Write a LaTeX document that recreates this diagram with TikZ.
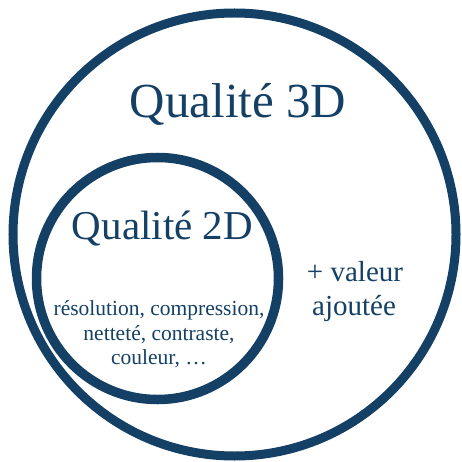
\documentclass[tikz,border=0pt]{standalone}
\usepackage{fontspec}
\setmainfont{Liberation Serif}
\definecolor{navy}{RGB}{20,64,102}
\begin{document}
\begin{tikzpicture}[x=1pt,y=-1pt,
  ring/.style={draw=navy},
  lbl/.style={text=navy,anchor=base,inner sep=0pt}]
\useasboundingbox (0,0) rectangle (461,462);
\fill[white] (0,0) rectangle (461,462);
\draw[ring,line width=9pt] (234.5,234.5) circle[radius=221.5];
\draw[ring,line width=9.5pt] (157.5,278.5) circle[radius=121];
\node[lbl,font=\fontsize{49}{58}\selectfont] (t3) at (238,118) {Qualité 3D};
\node[lbl,font=\fontsize{41}{48}\selectfont] (t2) at (162.5,239) {Qualité 2D};
\node[lbl,font=\fontsize{21.5}{24}\selectfont] (l1) at (159,315) {résolution, compression,};
\node[lbl,font=\fontsize{21.5}{24}\selectfont] (l2) at (159,340) {netteté, contraste,};
\node[lbl,font=\fontsize{21.5}{24}\selectfont] (l3) at (159,364) {couleur, …};
\node[lbl,font=\fontsize{29}{33}\selectfont] (v1) at (355,281) {+ valeur};
\node[lbl,font=\fontsize{29}{33}\selectfont] (v2) at (354,315) {ajoutée};
\end{tikzpicture}
\end{document}
